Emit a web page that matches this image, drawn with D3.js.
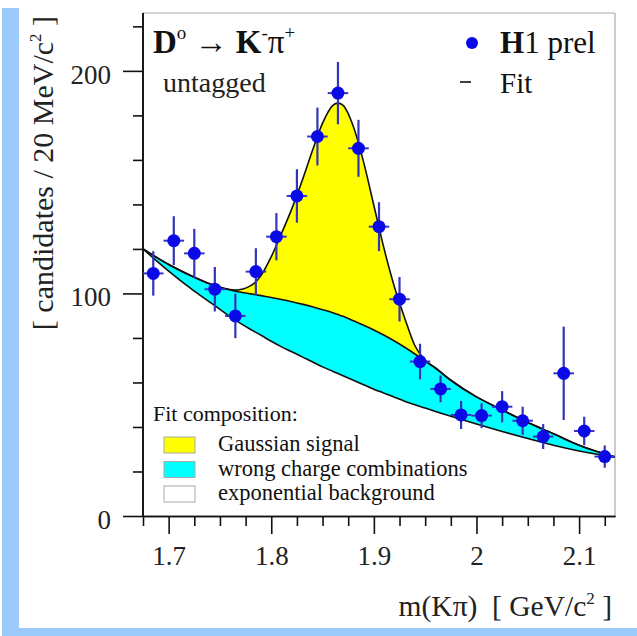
<!DOCTYPE html>
<html><head><meta charset="utf-8">
<script src="https://cdn.jsdelivr.net/npm/d3@7"></script>
<style>body{margin:0;background:#fff} svg{display:block} .pre{white-space:pre}</style>
</head><body><svg id="c" width="637" height="636"></svg>
<script>
// ---- data ----
const massBins = [1.685,1.705,1.725,1.745,1.765,1.785,1.805,1.825,1.845,1.865,1.885,1.905,1.925,1.945,1.965,1.985,2.005,2.025,2.045,2.065,2.085,2.105,2.125];
const counts   = [109,123.7,118,101.9,89.9,109.8,125.5,143.8,170.5,190,165.2,130,97.4,69.4,57.1,45.4,45.1,49.1,42.8,35.7,64.1,38.2,26.7];
const countErr = [10,11,11,10,10,10.5,10.6,12,13,14,12.8,11,10,8,6,6.3,5.6,7,6.3,5.6,21,6.4,5];
const binHalf  = 0.01;

const fitMass        = [1.675,1.70,1.725,1.745,1.765,1.78,1.79,1.80,1.81,1.82,1.83,1.84,1.85,1.86,1.865,1.87,1.88,1.89,1.90,1.91,1.92,1.93,1.94,1.95,1.96,1.975,2.0,2.025,2.05,2.075,2.1,2.135];
const fitTotal       = [120,113,107.3,103.5,101.5,103.5,108,116.5,127,138,150.5,164,176.5,184.5,185.5,184.5,175,159,139.5,120,103,89,76.5,70,66.5,61,53.5,47.7,42,37,31.8,26.5];
const fitWrongCharge = [120,113,107.3,103.5,101,99.8,99,98.2,97.3,96.3,95.2,94,92.7,91.3,90.5,89.7,87.7,85.7,83.6,81.2,78.6,75.8,72.8,69.5,66.5,61,53.5,47.7,42,37,31.8,26.5];
const fitExpBg       = [120,110,101,94.5,88,83.8,81.2,78.5,76,73.8,71.5,69.3,67,65,64,63,61,59,57,55.2,53.4,51.6,50,48.5,47,44.8,41.3,38,34.8,31.8,29.2,26.3];

const xMajorTicks = [1.7,1.8,1.9,2.0,2.1];
const xTickLabels = ["1.7","1.8","1.9","2","2.1"];
const xMinorTicks = [1.675,1.725,1.75,1.775,1.825,1.85,1.875,1.925,1.95,1.975,2.025,2.05,2.075,2.125];
const yMajorTicks = [0,100,200];
const yTickLabels = ["0","100","200"];
const yMinorTicks = [20,40,60,80,120,140,160,180,220];

const legendItems = ["Gaussian signal","wrong charge combinations","exponential background"];
const legendColors = ["#ffff00","#00ffff","#ffffff"];

// ---- drawing ----
const svg = d3.select("#c");
const serif = "'Liberation Serif','DejaVu Serif',serif";
svg.append("rect").attr("width",637).attr("height",636).attr("fill","#fff");
// light blue border
svg.append("rect").attr("x",2).attr("y",8).attr("width",17).attr("height",628).attr("fill","#9ccaf9");
svg.append("rect").attr("x",2).attr("y",628).attr("width",635).attr("height",8).attr("fill","#9ccaf9");

const x = d3.scaleLinear().domain([1.675,2.135]).range([143,615]);
const y = d3.scaleLinear().domain([0,226]).range([516,13]);

const fit = fitMass.map((m,i)=>({m, tot:fitTotal[i], wc:fitWrongCharge[i], bg:fitExpBg[i]}));
const curve = d3.curveMonotoneX;

svg.append("path").datum(fit).attr("fill","#00ffff")
  .attr("d", d3.area().x(d=>x(d.m)).y0(d=>y(d.bg)).y1(d=>y(d.wc)).curve(curve));
svg.append("path").datum(fit).attr("fill","#ffff00")
  .attr("d", d3.area().x(d=>x(d.m)).y0(d=>y(d.wc)).y1(d=>y(d.tot)).curve(curve));
["bg","wc","tot"].forEach(k=>{
  svg.append("path").datum(fit).attr("fill","none").attr("stroke","#111").attr("stroke-width",1.6)
    .attr("d", d3.line().x(d=>x(d.m)).y(d=>y(d[k])).curve(curve));
});

// frame
svg.append("line").attr("x1",143).attr("x2",615).attr("y1",13).attr("y2",13).attr("stroke","#aaa").attr("stroke-width",1.2);
svg.append("line").attr("x1",615).attr("x2",615).attr("y1",13).attr("y2",516).attr("stroke","#aaa").attr("stroke-width",1.2);

// axes
function styleAxis(g){ g.selectAll("path,line").attr("stroke","#111").attr("stroke-width",1.6); }
const gxMin = svg.append("g").attr("transform","translate(0,516)")
  .call(d3.axisBottom(x).tickValues(xMinorTicks).tickSize(10).tickSizeOuter(0).tickFormat(""));
const gx = svg.append("g").attr("transform","translate(0,516)")
  .call(d3.axisBottom(x).tickValues(xMajorTicks).tickSize(18).tickSizeOuter(0).tickFormat((d,i)=>xTickLabels[i]));
gx.selectAll("text").attr("y",49).attr("dy",0).attr("font-family",serif).attr("font-size",27).attr("fill","#222");
const gyMin = svg.append("g").attr("transform","translate(143,0)")
  .call(d3.axisLeft(y).tickValues(yMinorTicks).tickSize(10).tickSizeOuter(0).tickFormat(""));
const gy = svg.append("g").attr("transform","translate(143,0)")
  .call(d3.axisLeft(y).tickValues(yMajorTicks).tickSize(20).tickSizeOuter(0).tickFormat((d,i)=>yTickLabels[i]));
gy.selectAll("text").attr("x",-32).attr("dy","0.45em").attr("font-family",serif).attr("font-size",27).attr("fill","#222");
[gxMin,gx,gyMin,gy].forEach(styleAxis);
gyMin.select(".domain").attr("d","M0,13V516");
gy.select(".domain").attr("d","M0,13V516");

// data points
const pts = svg.append("g");
massBins.forEach((m,i)=>{
  pts.append("line").attr("x1",x(m)).attr("x2",x(m)).attr("y1",y(counts[i]-countErr[i])).attr("y2",y(counts[i]+countErr[i]))
    .attr("stroke","#3434b8").attr("stroke-width",2.2);
  pts.append("line").attr("x1",x(m-binHalf)).attr("x2",x(m+binHalf)).attr("y1",y(counts[i])).attr("y2",y(counts[i]))
    .attr("stroke","#3434c8").attr("stroke-width",2);
  pts.append("circle").attr("cx",x(m)).attr("cy",y(counts[i])).attr("r",6.5).attr("fill","#0a0ae6");
});

// title
const t = svg.append("text").attr("class","pre").attr("x",153).attr("y",53).attr("font-family",serif).attr("font-size",33).attr("font-weight","bold").attr("fill","#111");
t.append("tspan").text("D");
t.append("tspan").attr("font-size",19).attr("dy",-14).attr("font-weight","normal").text("o");
t.append("tspan").attr("dy",14).attr("font-weight","normal").text(" \u2192 ");
t.append("tspan").text("K");
t.append("tspan").attr("font-size",19).attr("dy",-14).attr("font-weight","normal").text("-");
t.append("tspan").attr("dy",14).attr("font-weight","normal").text("\u03c0");
t.append("tspan").attr("font-size",19).attr("dy",-14).attr("font-weight","normal").text("+");
svg.append("text").attr("x",163).attr("y",92).attr("font-family",serif).attr("font-size",28).attr("fill","#222").text("untagged");

// top-right legend
svg.append("circle").attr("cx",472).attr("cy",43).attr("r",6).attr("fill","#0a0ae6");
const h = svg.append("text").attr("x",500).attr("y",53).attr("font-family",serif).attr("font-size",31).attr("fill","#111");
h.append("tspan").attr("font-weight","bold").text("H");
h.append("tspan").text("1 prel");
svg.append("line").attr("x1",460).attr("x2",471).attr("y1",82).attr("y2",82).attr("stroke","#111").attr("stroke-width",1.6);
svg.append("text").attr("x",500).attr("y",93).attr("font-family",serif).attr("font-size",29).attr("fill","#111").text("Fit");

// bottom-left legend
svg.append("text").attr("x",153).attr("y",421).attr("font-family",serif).attr("font-size",22).attr("fill","#111").text("Fit composition:");
legendItems.forEach((s,i)=>{
  const yy = 437 + i*24.5;
  svg.append("rect").attr("x",164).attr("y",yy).attr("width",31).attr("height",16).attr("fill",legendColors[i]).attr("stroke","#aaa").attr("stroke-width",1);
  svg.append("text").attr("x",218).attr("y",yy+14).attr("font-family",serif).attr("font-size",22.5).attr("fill","#111").text(s);
});

// axis titles
const xl = svg.append("text").attr("class","pre").attr("x",612).attr("y",616).attr("text-anchor","end").attr("font-family",serif).attr("font-size",29.5).attr("fill","#222");
xl.append("tspan").text("m(K\u03c0)  [ GeV/c");
xl.append("tspan").attr("font-size",17).attr("dy",-12).text("2");
xl.append("tspan").attr("dy",12).text(" ]");
const yl = svg.append("text").attr("class","pre").attr("transform","translate(53,173) rotate(-90)").attr("text-anchor","middle").attr("font-family",serif).attr("font-size",30).attr("fill","#222");
yl.append("tspan").text("[ candidates / 20 MeV/c");
yl.append("tspan").attr("font-size",17).attr("dy",-12).text("2");
yl.append("tspan").attr("dy",12).text(" ]");
</script></body></html>
